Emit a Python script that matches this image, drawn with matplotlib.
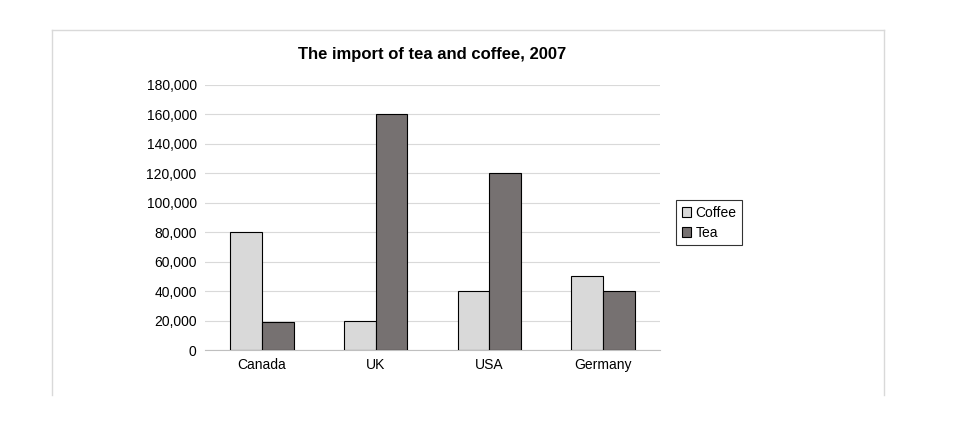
import matplotlib
matplotlib.use("Agg")
import matplotlib.pyplot as plt
import numpy as np

countries = ["Canada", "UK", "USA", "Germany"]
coffee = [80000, 20000, 40000, 50000]
tea = [19000, 160000, 120000, 40000]
yticks = list(range(0, 180001, 20000))

plt.rcParams['font.family'] = ['Liberation Sans', 'DejaVu Sans']
fig = plt.figure(figsize=(9.7, 4.43), dpi=100)
W, H = 970, 443
fig.add_artist(plt.Line2D([52/W, 52/W], [1-30/H, 1-395/H], color='#d9d9d9', lw=1))
fig.add_artist(plt.Line2D([884/W, 884/W], [1-30/H, 1-395/H], color='#d9d9d9', lw=1))
fig.add_artist(plt.Line2D([52/W, 884/W], [1-30/H, 1-30/H], color='#d9d9d9', lw=1))

ax = fig.add_axes([205/W, 1-350/H, 455/W, 265/H])
x = np.arange(len(countries))
w = 0.28
ax.bar(x - w/2, coffee, w, color='#d9d9d9', edgecolor='black', linewidth=0.8, label='Coffee', zorder=3)
ax.bar(x + w/2, tea, w, color='#767171', edgecolor='black', linewidth=0.8, label='Tea', zorder=3)
ax.set_xlim(-0.5, 3.5)
ax.set_ylim(0, 180000)
ax.set_yticks(yticks)
ax.set_yticklabels([f"{v:,}" for v in yticks], fontsize=10)
ax.set_xticks(x)
ax.set_xticklabels(countries, fontsize=10)
ax.tick_params(length=0, pad=6)
ax.grid(axis='y', color='#d9d9d9', lw=0.8, zorder=0)
for s in ['top', 'right', 'left']:
    ax.spines[s].set_visible(False)
ax.spines['bottom'].set_color('#bfbfbf')
ax.set_title("The import of tea and coffee, 2007", fontsize=12, fontweight='bold', pad=19)
leg = ax.legend(loc='center left', bbox_to_anchor=(1.02, 0.48), fontsize=10, fancybox=False,
                edgecolor='black', handlelength=0.7, handleheight=0.7, handletextpad=0.3,
                borderpad=0.4, labelspacing=0.4)
leg.get_frame().set_linewidth(0.8)
fig.savefig("out.png", dpi=100)
